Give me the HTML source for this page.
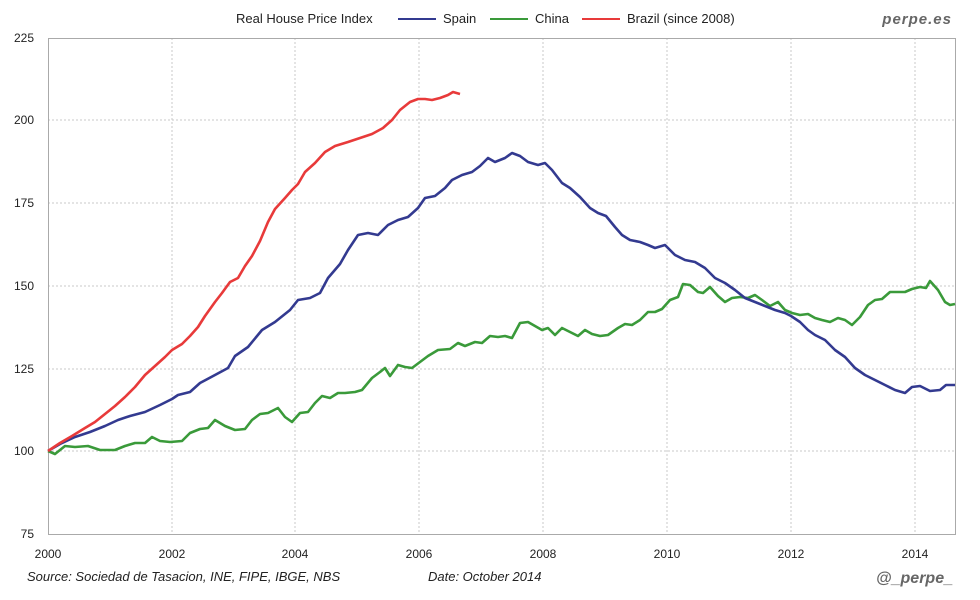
<!DOCTYPE html>
<html><head><meta charset="utf-8"><style>
html,body{margin:0;padding:0;background:#fff;}
svg{display:block;font-family:"Liberation Sans",sans-serif;}
</style></head><body>
<svg width="980" height="600" viewBox="0 0 980 600" xmlns="http://www.w3.org/2000/svg">
<rect width="980" height="600" fill="#fff"/>
<g stroke="#c8c8c8" stroke-width="1" stroke-dasharray="2,2">
<line x1="172" y1="38" x2="172" y2="534"/><line x1="295" y1="38" x2="295" y2="534"/>
<line x1="419" y1="38" x2="419" y2="534"/><line x1="543" y1="38" x2="543" y2="534"/>
<line x1="667" y1="38" x2="667" y2="534"/><line x1="791" y1="38" x2="791" y2="534"/>
<line x1="915" y1="38" x2="915" y2="534"/>
<line x1="48" y1="120" x2="955" y2="120"/><line x1="48" y1="203" x2="955" y2="203"/>
<line x1="48" y1="286" x2="955" y2="286"/><line x1="48" y1="369" x2="955" y2="369"/>
<line x1="48" y1="451" x2="955" y2="451"/>
</g>
<rect x="48.5" y="38.5" width="907" height="496" fill="none" stroke="#aaa"/>
<g font-size="12" fill="#222" text-anchor="end">
<text x="34" y="42">225</text><text x="34" y="124">200</text><text x="34" y="207">175</text>
<text x="34" y="290">150</text><text x="34" y="373">125</text><text x="34" y="455">100</text><text x="34" y="538">75</text>
</g>
<g font-size="12" fill="#222" text-anchor="middle">
<text x="48" y="558">2000</text><text x="172" y="558">2002</text><text x="295" y="558">2004</text>
<text x="419" y="558">2006</text><text x="543" y="558">2008</text><text x="667" y="558">2010</text>
<text x="791" y="558">2012</text><text x="915" y="558">2014</text>
</g>
<g fill="none" stroke-width="2.6" stroke-linejoin="round">
<polyline stroke="#3a9a3a" points="48,451 55,454 65,446 75,447 88,446 100,450 115,450 125,446 135,443 145,443 152,437 160,441 170,442 182,441 190,433 200,429 208,428 215,420 225,426 235,430 245,429 252,420 260,414 268,413 278,408 285,417 292,422 300,413 308,412 315,403 322,396 330,398 338,393 345,393 355,392 362,390 372,378 380,372 385,368 390,376 398,365 405,367 412,368 420,362 428,356 438,350 450,349 458,343 465,346 475,342 482,343 490,336 498,337 505,336 512,338 520,323 528,322 535,326 542,330 548,328 555,335 562,328 570,332 578,336 585,330 592,334 600,336 608,335 618,328 625,324 632,325 640,320 648,312 655,312 662,309 670,300 678,297 683,284 690,285 698,292 703,293 710,287 718,296 725,302 732,298 740,297 748,298 755,295 762,300 770,306 778,302 785,310 792,313 800,315 808,314 815,318 822,320 830,322 838,318 845,320 852,325 860,317 868,305 875,300 882,299 890,292 898,292 905,292 912,289 920,287 926,288 930,281 938,290 945,302 950,305 955,304"/>
<polyline stroke="#333a90" points="48,451 60,444 75,437 90,432 105,426 118,420 130,416 145,412 160,405 172,399 178,395 190,392 200,383 215,375 228,368 235,356 248,347 262,330 275,322 290,310 298,300 310,298 320,293 328,278 340,264 348,250 358,235 368,233 378,235 388,225 398,220 408,217 418,208 425,198 435,196 445,188 452,180 462,175 472,172 480,166 488,158 495,162 505,158 512,153 520,156 528,162 538,165 545,163 552,170 562,183 570,188 580,197 590,208 598,213 606,216 615,227 622,235 630,240 640,242 648,245 655,248 665,245 675,255 685,260 695,262 705,268 715,278 725,283 735,290 745,298 755,302 765,306 775,310 785,313 791,316 800,322 808,330 815,335 825,340 835,350 845,357 855,368 865,375 875,380 885,385 895,390 905,393 912,387 920,386 930,391 940,390 946,385 955,385"/>
<polyline stroke="#e83a3a" points="48,451 60,443 72,436 85,428 95,422 105,414 115,406 125,397 135,387 145,375 155,366 165,357 172,350 182,344 190,336 198,327 205,316 215,302 222,293 230,282 238,278 245,266 252,256 260,241 268,222 275,209 285,198 292,190 298,184 305,172 315,163 325,152 335,146 348,142 360,138 372,134 383,128 392,120 400,110 410,102 418,99 425,99 432,100 440,98 448,95 453,92 460,94"/>
</g>
<g font-size="13" fill="#222">
<text x="236" y="23">Real House Price Index</text>
<line x1="398" y1="19" x2="436" y2="19" stroke="#333a90" stroke-width="2"/>
<text x="443" y="23">Spain</text>
<line x1="490" y1="19" x2="528" y2="19" stroke="#3a9a3a" stroke-width="2"/>
<text x="535" y="23">China</text>
<line x1="582" y1="19" x2="620" y2="19" stroke="#e83a3a" stroke-width="2"/>
<text x="627" y="23">Brazil (since 2008)</text>
</g>
<text x="952" y="24" font-size="15" font-weight="bold" font-style="italic" fill="#666" text-anchor="end" letter-spacing="1">perpe.es</text>
<g font-size="13" font-style="italic" fill="#222">
<text x="27" y="581">Source: Sociedad de Tasacion, INE, FIPE, IBGE, NBS</text>
<text x="428" y="581">Date: October 2014</text>
</g>
<text x="953" y="583" font-size="16" font-weight="bold" font-style="italic" fill="#666" text-anchor="end">@_perpe_</text>
</svg>
</body></html>
